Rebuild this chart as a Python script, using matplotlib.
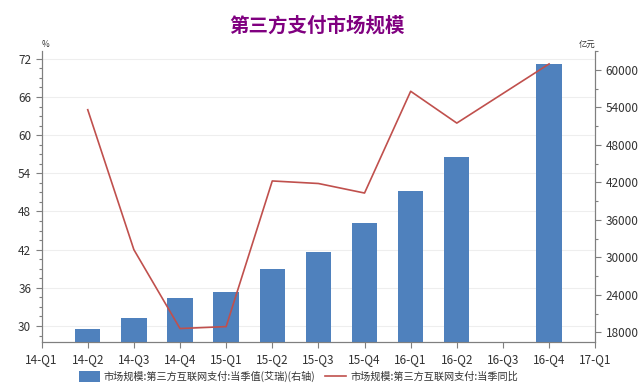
import numpy as np
import matplotlib
matplotlib.use("Agg")
import matplotlib.pyplot as plt

plt.rcParams['font.family'] = ['Noto Sans CJK SC', 'DejaVu Sans']

# 横轴季度
quarters = ['14-Q1', '14-Q2', '14-Q3', '14-Q4', '15-Q1', '15-Q2', '15-Q3',
            '15-Q4', '16-Q1', '16-Q2', '16-Q3', '16-Q4', '17-Q1']

# 当季值(亿元, 右轴) - 16-Q3 缺失
bar_quarters = ['14-Q2', '14-Q3', '14-Q4', '15-Q1', '15-Q2', '15-Q3',
                '15-Q4', '16-Q1', '16-Q2', '16-Q4']
bar_values = [18530, 20290, 23540, 24400, 28180, 30810, 35500, 40620, 46020, 60910]

# 当季同比(%, 左轴)
line_quarters = bar_quarters
line_values = [64.0, 42.0, 29.6, 29.9, 52.8, 52.4, 50.9, 66.9, 61.9, 71.2]

left_ticks = [30, 36, 42, 48, 54, 60, 66, 72]
right_ticks = [18000, 24000, 30000, 36000, 42000, 48000, 54000, 60000]

bar_color = '#4f81bd'
line_color = '#c0504d'
axis_color = '#7f7f7f'
text_color = '#333333'

fig = plt.figure(figsize=(6.4, 3.89), dpi=100)
ax = fig.add_axes([0.065, 0.12, 0.865, 0.75])
ax2 = ax.twinx()

bx = [quarters.index(q) for q in bar_quarters]
lx = [quarters.index(q) for q in line_quarters]

bars = ax2.bar(bx, bar_values, width=0.55, color=bar_color, zorder=1)
line, = ax2.plot(lx, line_values, color=line_color, lw=1.2, zorder=3,
                 transform=ax.transData)

ax.set_xlim(0, 12)
ax.set_ylim(27.43, 73.3)
ax2.set_ylim(16400, 63100)

ax.set_xticks(range(len(quarters)))
ax.set_xticklabels(quarters)
ax.set_yticks(left_ticks)
ax.set_yticks(np.arange(28.5, 73.3, 1.5), minor=True)
ax2.set_yticks(right_ticks)
ax2.set_yticks(np.arange(18000, 63100, 3000), minor=True)

ax.grid(axis='y', color='#eeeeee', lw=0.8)
ax.set_axisbelow(True)

for a in (ax, ax2):
    a.spines['top'].set_visible(False)
    for s in ('left', 'right', 'bottom'):
        a.spines[s].set_color(axis_color)
    a.tick_params(colors=axis_color, labelcolor=text_color, labelsize=8.5,
                  length=4, width=0.8)
    a.tick_params(which='minor', colors=axis_color, length=2.5, width=0.8)

ax.text(0, 1.005, '%', transform=ax.transAxes, fontsize=6, color=text_color,
        ha='left', va='bottom')
ax2.text(1, 1.005, '亿元', transform=ax2.transAxes, fontsize=6, color=text_color,
         ha='right', va='bottom')

fig.suptitle('第三方支付市场规模', x=0.495, y=0.958, fontsize=14,
             fontweight='bold', color='#800080')

fig.legend([bars, line],
           ['市场规模:第三方互联网支付:当季值(艾瑞)(右轴)', '市场规模:第三方互联网支付:当季同比'],
           loc='center', bbox_to_anchor=(0.466, 0.032), ncol=2,
           frameon=False, fontsize=7.3, handlelength=2.1, handleheight=1.2,
           columnspacing=0.9, handletextpad=0.4, labelcolor=text_color)

fig.savefig('out.png', dpi=100)
